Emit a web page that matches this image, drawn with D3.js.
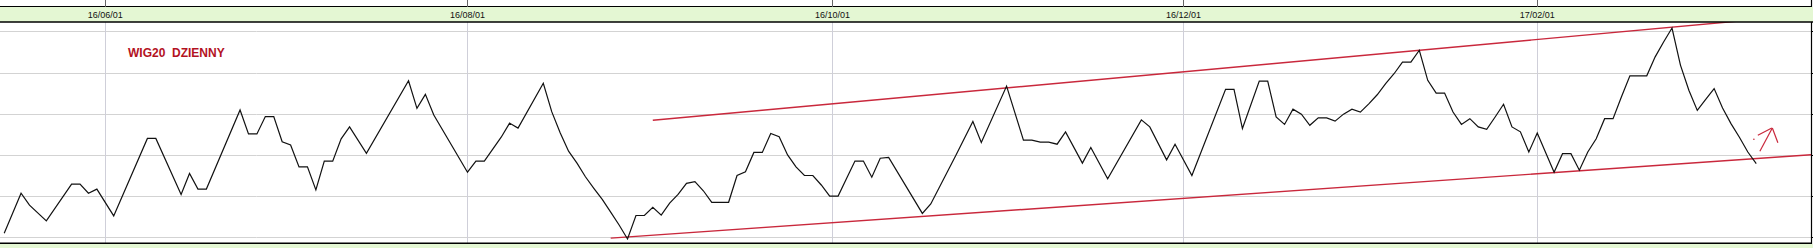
<!DOCTYPE html>
<html>
<head>
<meta charset="utf-8">
<script src="https://cdn.jsdelivr.net/npm/d3@7"></script>
<style>
html,body{margin:0;padding:0;background:#fff;}
svg{display:block;}
</style>
</head>
<body>
<script>
// ---- data (x = trading-day index, y = index value) ----
const title = "WIG20  DZIENNY";
const tickIdx = [12, 55, 98.33, 140, 182];
const tickLabels = ["16/06/01", "16/08/01", "16/10/01", "16/12/01", "17/02/01"];
const gridValues = [1600, 1700, 1800, 1900, 2000, 2100];

const dayIdx = [0,2,3,5,8,9,10,11,13,17,18,21,22,23,24,28,29,30,31,32,33,34,35,36,37,38,39,40,41,43,48,49,50,51,55,56,57,58,59,60,61,64,65,66,67,68,69,70,71,72,73,74,75,76,77,78,79,80,81,82,83,84,85,86,87,88,89,90,91,92,93,94,95,96,97,98,99,100,101,102,103,104,105,109,110,113,115,116,119,121,122,123,124,125,126,128,129,131,135,136,138,139,141,145,146,147,149,150,151,152,153,154,155,156,157,158,159,160,161,162,163,164,165,166,167,168,169,170,171,172,173,174,175,176,177,178,179,180,181,182,184,185,186,187,188,189,190,191,192,193,194,195,196,197,198,199,200,201,202,203,204,205,206,207,208];
const closeVal = [1610,1707,1678,1640,1729,1729,1707,1717,1652,1840,1840,1704,1755,1717,1717,1909,1851,1851,1893,1893,1832,1824,1771,1771,1715,1785,1785,1839,1868,1804,1980,1913,1947,1897,1758,1785,1785,1814,1843,1877,1865,1974,1905,1854,1809,1780,1747,1719,1692,1661,1630,1596,1653,1653,1673,1654,1683,1704,1731,1735,1713,1685,1685,1685,1750,1759,1806,1806,1852,1844,1800,1771,1750,1750,1727,1700,1700,1743,1785,1785,1746,1792,1794,1658,1681,1800,1881,1830,1967,1836,1836,1831,1831,1826,1856,1780,1818,1742,1885,1868,1788,1826,1750,1959,1959,1864,1979,1979,1892,1874,1911,1899,1872,1890,1890,1882,1899,1911,1904,1924,1946,1973,1997,2025,2025,2054,1981,1950,1950,1904,1874,1888,1868,1862,1892,1923,1868,1856,1807,1853,1758,1803,1803,1763,1807,1839,1888,1888,1941,1992,1992,1992,2038,2074,2108,2018,1957,1908,1935,1961,1914,1876,1843,1807,1779];

// trend channel lines [idx, value]
const upperTrend = [[77, 1884], [206, 2125]];
const lowerTrend = [[72, 1598], [214.6, 1800.5]];
// hand-drawn arrow strokes [idx, value]
const arrowStrokes = [
  [[208.43, 1808.7], [209.91, 1865.3]],
  [[208.19, 1847.6], [209.85, 1865.3]],
  [[209.91, 1865.3], [210.57, 1829.6]]
];
const arrowDot = [207.72, 1837.9];

// ---- layout ----
const W = 1813, H = 248;
const plotL = 0, plotR = 1811, plotT = 22, plotB = 243;
const svg = d3.select("body").append("svg").attr("width", W).attr("height", H);

const x = d3.scaleLinear().domain([-0.5, 214.5]).range([plotL, plotR]);
const y = d3.scaleLinear().domain([1586.2, 2122.6]).range([plotB, plotT]);

svg.append("rect").attr("x",0).attr("y",0).attr("width",W).attr("height",H).attr("fill","#fff");

// header strips
svg.append("rect").attr("x",0).attr("y",7).attr("width",W).attr("height",15).attr("fill","#e4f7d3");
svg.append("rect").attr("x",0).attr("y",244).attr("width",W).attr("height",4).attr("fill","#e4f7d3");
svg.append("line").attr("x1",0).attr("x2",1811.5).attr("y1",6.5).attr("y2",6.5).attr("stroke","#000").attr("stroke-width",1.2);
svg.append("line").attr("x1",1811.5).attr("x2",1811.5).attr("y1",0).attr("y2",7).attr("stroke","#000").attr("stroke-width",1.2);

// top strip ticks
svg.selectAll(".ttick").data(tickIdx).enter().append("line")
  .attr("x1", d => Math.round(x(d)) + 0.5).attr("x2", d => Math.round(x(d)) + 0.5)
  .attr("y1", 0).attr("y2", 7).attr("stroke", "#666").attr("stroke-width", 1);

// tick labels
svg.selectAll(".tlab").data(tickIdx).enter().append("text")
  .attr("x", d => x(d)).attr("y", 18)
  .attr("text-anchor", "middle")
  .attr("font-family", "'Liberation Sans', Arial, sans-serif")
  .attr("font-size", "9px").attr("fill", "#111")
  .text((d, i) => tickLabels[i]);

// gridlines
const grid = svg.append("g");
grid.selectAll(".hg").data(gridValues).enter().append("line")
  .attr("x1", plotL).attr("x2", plotR)
  .attr("y1", d => Math.round(y(d)) + 0.5).attr("y2", d => Math.round(y(d)) + 0.5)
  .attr("stroke", "#d3d3d3").attr("stroke-width", 1);
grid.selectAll(".vg").data(tickIdx).enter().append("line")
  .attr("x1", d => Math.round(x(d)) + 0.5).attr("x2", d => Math.round(x(d)) + 0.5)
  .attr("y1", plotT).attr("y2", plotB)
  .attr("stroke", "#cfcfd9").attr("stroke-width", 1);
// small right ticks
grid.selectAll(".rt").data(gridValues).enter().append("line")
  .attr("x1", plotR).attr("x2", W)
  .attr("y1", d => Math.round(y(d)) + 0.5).attr("y2", d => Math.round(y(d)) + 0.5)
  .attr("stroke", "#000").attr("stroke-width", 1);

// clip
svg.append("clipPath").attr("id","clip").append("rect")
  .attr("x", plotL).attr("y", plotT).attr("width", plotR - plotL).attr("height", plotB - plotT);

// title
svg.append("text").attr("x", 128).attr("y", 56.5)
  .attr("font-family", "'Liberation Sans', Arial, sans-serif")
  .attr("font-size", "12px").attr("font-weight", "bold")
  .attr("fill", "#b3121f").attr("xml:space","preserve").style("white-space","pre")
  .text(title);

const g = svg.append("g").attr("clip-path", "url(#clip)");

// trend lines
const tl = d3.line().x(d => x(d[0])).y(d => y(d[1]));
[upperTrend, lowerTrend].forEach(t => {
  g.append("path").attr("d", tl(t)).attr("fill","none")
    .attr("stroke", "#c9283c").attr("stroke-width", 1.4);
});

// price line
const pts = dayIdx.map((d, i) => [d, closeVal[i]]);
g.append("path").attr("d", tl(pts)).attr("fill", "none")
  .attr("stroke", "#111").attr("stroke-width", 1.2).attr("stroke-linejoin","miter");

// arrow
arrowStrokes.forEach(s => {
  g.append("path").attr("d", tl(s)).attr("fill","none")
    .attr("stroke", "#c9283c").attr("stroke-width", 1.2);
});
g.append("circle").attr("cx", x(arrowDot[0])).attr("cy", y(arrowDot[1])).attr("r", 0.8).attr("fill", "#c9283c");

// plot frame
svg.append("line").attr("x1",0).attr("x2",W).attr("y1",22).attr("y2",22).attr("stroke","#000").attr("stroke-width",1.6);
svg.append("line").attr("x1",0).attr("x2",1812).attr("y1",243.2).attr("y2",243.2).attr("stroke","#000").attr("stroke-width",1.6);
svg.append("line").attr("x1",1811.5).attr("x2",1811.5).attr("y1",22).attr("y2",244).attr("stroke","#000").attr("stroke-width",1.2);
</script>
</body>
</html>
